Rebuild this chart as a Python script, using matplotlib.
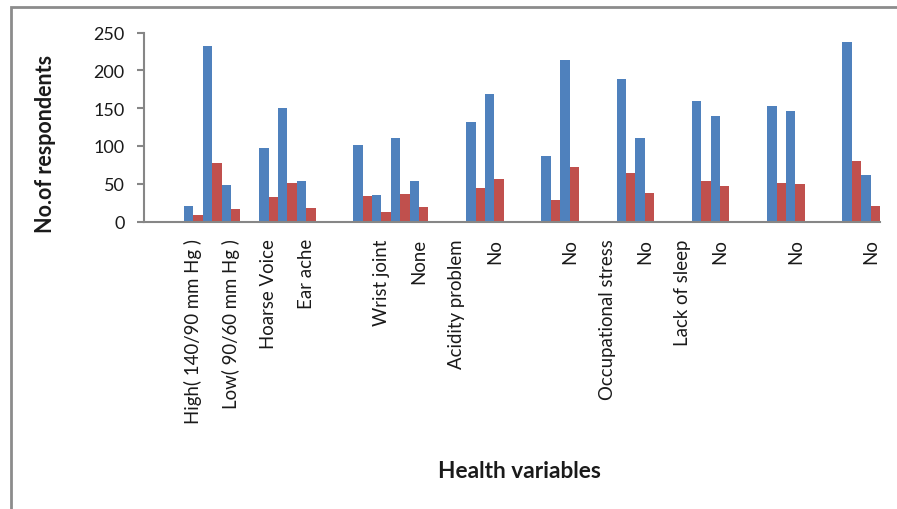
import numpy as np
import matplotlib
matplotlib.use("Agg")
import matplotlib.pyplot as plt
from matplotlib.patches import Rectangle

BLUE = "#4F81BD"
RED = "#C0504D"
AXIS = "#868686"
TEXT = "#1A1A1A"

# category labels (Excel shows every second one)
labels = [
    "", "", "High( 140/90 mm Hg )", "", "Low( 90/60 mm Hg )", "",
    "Hoarse Voice", "", "Ear ache", "", "", "", "Wrist joint", "", "None", "",
    "Acidity problem", "", "No", "", "", "", "No", "", "Occupational stress", "",
    "No", "", "Lack of sleep", "", "No", "", "", "", "No", "", "", "", "No",
]
blue_vals = [
    None, None, 20, 232, 48, None, 97, 150, 53, None, None, 101, 35, 110, 54,
    None, None, 132, 168, None, None, 87, 213, None, None, 189, 111, None, None,
    160, 140, None, None, 153, 146, None, None, 238, 62,
]
red_vals = [
    None, None, 8, 77, 16, None, 33, 51, 18, None, None, 34, 12, 37, 19,
    None, None, 44, 56, None, None, 29, 72, None, None, 64, 38, None, None,
    53, 47, None, None, 51, 49, None, None, 80, 21,
]

plt.rcParams["font.family"] = ["Lato", "DejaVu Sans"]

blue = np.array([np.nan if v is None else v for v in blue_vals], dtype=float)
red = np.array([np.nan if v is None else v for v in red_vals], dtype=float)
x = np.arange(len(labels))

fig = plt.figure(figsize=(8.97, 5.10), dpi=100)
ax = fig.add_axes([144 / 897, 287.5 / 510, 736 / 897, 189 / 510])

ax.bar(x, blue, width=0.5, align="edge", color=BLUE)
ax.bar(x + 0.5, red, width=0.5, align="edge", color=RED)

ax.set_xlim(-0.12, len(labels))
ax.set_ylim(0, 250)
ax.set_yticks([0, 50, 100, 150, 200, 250])
ax.set_xticks(x + 0.5)
ax.set_xticklabels(labels, rotation=90, va="top", ha="center")

ax.spines[["top", "right"]].set_visible(False)
for s in ("left", "bottom"):
    ax.spines[s].set_color(AXIS)
    ax.spines[s].set_linewidth(1.5)
ax.tick_params(axis="y", length=5, width=1.5, color=AXIS, labelsize=13,
               labelcolor=TEXT, pad=9)
ax.tick_params(axis="x", length=0, labelsize=13.4, labelcolor=TEXT, pad=12)

ax.set_ylabel("No.of respondents", fontsize=15.5, fontweight="bold", color=TEXT,
              va="center", ha="center")
ax.yaxis.set_label_coords(-0.1345, 0.415)
ax.set_xlabel("Health variables", fontsize=16.3, fontweight="bold", color=TEXT,
              va="center", ha="center")
ax.xaxis.set_label_coords(0.51, -1.32)

# chart frame, cut off at right and bottom like the source
fig.add_artist(Rectangle((11 / 897, -0.2), 1.2, (510 - 8) / 510 + 0.2,
                         transform=fig.transFigure, fill=False,
                         edgecolor="#8C8C8C", linewidth=2))

fig.savefig("out.png", dpi=100, facecolor="white")
